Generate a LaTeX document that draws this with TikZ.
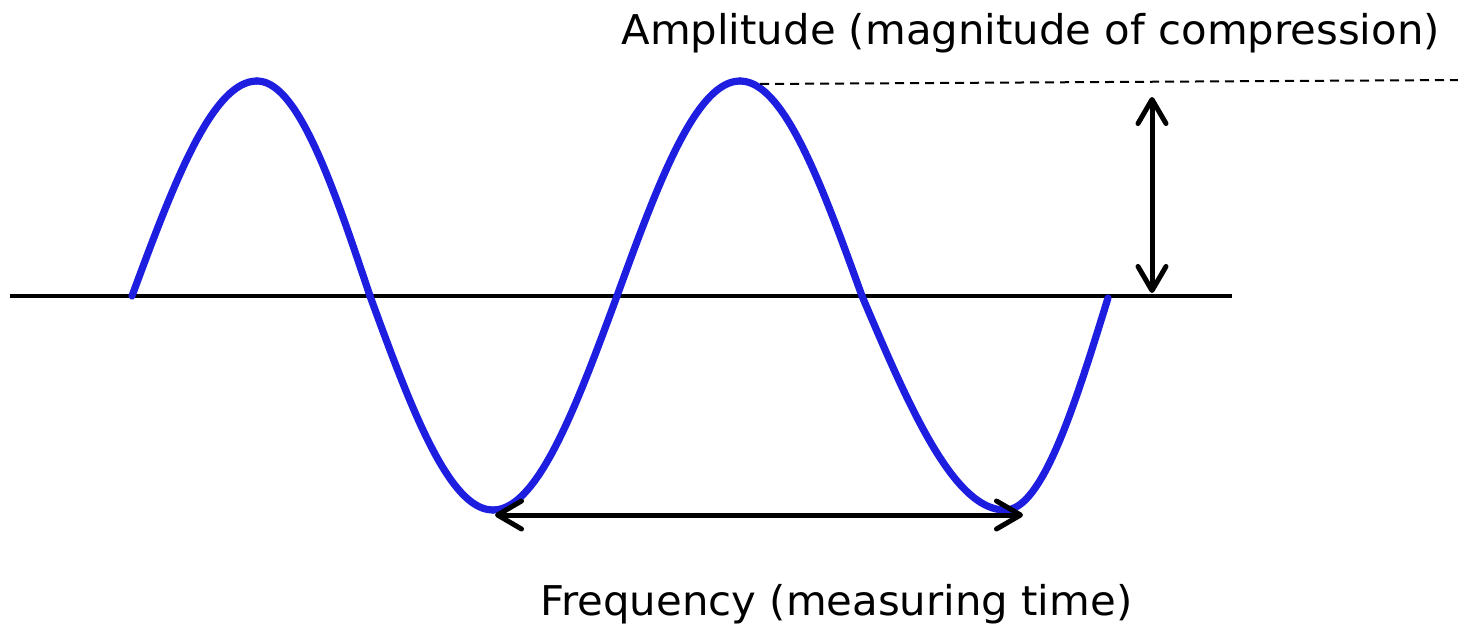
\documentclass[tikz,border=0pt]{standalone}
\usepackage{fontspec}
\newfontfamily\lblfont[FakeStretch=1.02]{DejaVu Sans}
\usepackage{tikz}
\usetikzlibrary{arrows.meta}
\definecolor{waveblue}{RGB}{30,30,225}
\tikzset{
  restline/.style ={line width=2.2pt},
  wave/.style     ={draw=waveblue, line width=3.6pt, line cap=round},
  dimarrow/.style ={line width=2.5pt, {Straight Barb[length=12pt,width=14pt,round]}-{Straight Barb[length=12pt,width=14pt,round]}},
  guide/.style    ={line width=1pt, dash pattern=on 4.5pt off 3pt},
  lbl/.style      ={font=\lblfont\fontsize{20.5}{24}\selectfont, inner sep=0pt, anchor=base west},
}
\begin{document}
\begin{tikzpicture}[x=0.5pt, y=-0.5pt]
  \useasboundingbox (0,0) rectangle (1458,626);
  % rest line
  \coordinate (ax0) at (10,296);
  \coordinate (ax1) at (1232,296);
  \draw[restline] (ax0) -- (ax1);
  % wave, one quarter at a time (s=1 leaves the rest line, s=0 goes back to it)
  \foreach \xa/\ya/\xb/\yb/\s in {132/296/257/81/1, 257/81/370/296/0,
      370/296/493/510/1, 493/510/617/296/0, 617/296/740/81/1,
      740/81/862/296/0, 862/296/1005/510/1, 1005/510/1108/298/0}
    \draw[wave] plot[domain=0:90, samples=25, smooth]
      ({\xa+(\xb-\xa)*\x/90}, {\ya+(\yb-\ya)*(\s*sin(\x)+(1-\s)*(1-cos(\x)))});
  % amplitude
  \coordinate (crest) at (760,84);
  \coordinate (gend) at (1458,80);
  \draw[guide] (crest) -- (gend);
  \coordinate (atop) at (1152,97);
  \coordinate (abot) at (1152,293);
  \draw[dimarrow] (atop) -- (abot);
  \node[lbl] (amp) at (621,45) {Amplitude (magnitude of compression)};
  % period
  \coordinate (fl) at (495,515);
  \coordinate (fr) at (1023,515);
  \draw[dimarrow] (fl) -- (fr);
  \node[lbl] (freq) at (540,615) {Frequency (measuring time)};
\end{tikzpicture}
\end{document}
